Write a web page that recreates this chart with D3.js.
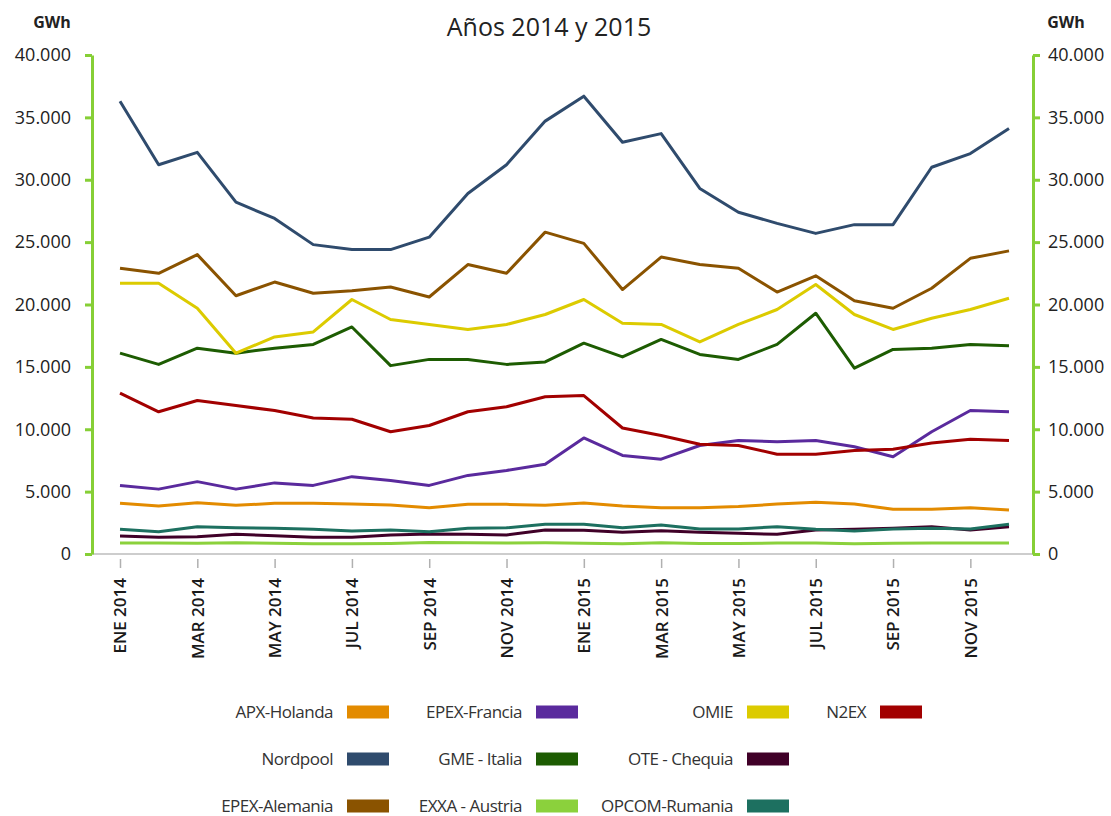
<!DOCTYPE html>
<html>
<head>
<meta charset="utf-8">
<script src="https://cdn.jsdelivr.net/npm/d3@7"></script>
<style>
  body { margin: 0; background: #fff; }
  svg { display: block; font-family: "Open Sans", "DejaVu Sans", sans-serif; }
</style>
</head>
<body>
<div id="chart"></div>
<script>
// months (x categories)
const monthNames = ["ENE", "FEB", "MAR", "ABR", "MAY", "JUN", "JUL", "AGO", "SEP", "OCT", "NOV", "DIC"];
const months = [2014, 2015].flatMap(yr => monthNames.map(m => `${m} ${yr}`));

// GWh per month
const nordpool   = [36.3, 31.2, 32.2, 28.2, 26.9, 24.8, 24.4, 24.4, 25.4, 28.9, 31.2, 34.7, 36.7, 33.0, 33.7, 29.3, 27.4, 26.5, 25.7, 26.4, 26.4, 31.0, 32.1, 34.1];
const alemania   = [22.9, 22.5, 24.0, 20.7, 21.8, 20.9, 21.1, 21.4, 20.6, 23.2, 22.5, 25.8, 24.9, 21.2, 23.8, 23.2, 22.9, 21.0, 22.3, 20.3, 19.7, 21.3, 23.7, 24.3];
const omie       = [21.7, 21.7, 19.7, 16.1, 17.4, 17.8, 20.4, 18.8, 18.4, 18.0, 18.4, 19.2, 20.4, 18.5, 18.4, 17.0, 18.4, 19.6, 21.6, 19.2, 18.0, 18.9, 19.6, 20.5];
const gme        = [16.1, 15.2, 16.5, 16.1, 16.5, 16.8, 18.2, 15.1, 15.6, 15.6, 15.2, 15.4, 16.9, 15.8, 17.2, 16.0, 15.6, 16.8, 19.3, 14.9, 16.4, 16.5, 16.8, 16.7];
const n2ex       = [12.9, 11.4, 12.3, 11.9, 11.5, 10.9, 10.8, 9.8, 10.3, 11.4, 11.8, 12.6, 12.7, 10.1, 9.5, 8.8, 8.7, 8.0, 8.0, 8.3, 8.4, 8.9, 9.2, 9.1];
const francia    = [5.5, 5.2, 5.8, 5.2, 5.7, 5.5, 6.2, 5.9, 5.5, 6.3, 6.7, 7.2, 9.3, 7.9, 7.6, 8.7, 9.1, 9.0, 9.1, 8.6, 7.8, 9.8, 11.5, 11.4];
const apx        = [4.06, 3.85, 4.1, 3.9, 4.06, 4.06, 4.0, 3.93, 3.7, 3.98, 3.98, 3.9, 4.08, 3.85, 3.7, 3.7, 3.8, 4.0, 4.14, 4.0, 3.58, 3.58, 3.7, 3.53];
const opcom      = [1.98, 1.79, 2.19, 2.1, 2.06, 1.98, 1.84, 1.92, 1.79, 2.06, 2.1, 2.38, 2.38, 2.1, 2.32, 2.0, 2.0, 2.19, 1.98, 1.84, 2.0, 2.06, 2.0, 2.38];
const ote        = [1.44, 1.34, 1.39, 1.58, 1.47, 1.34, 1.34, 1.52, 1.6, 1.58, 1.52, 1.92, 1.9, 1.74, 1.87, 1.74, 1.66, 1.58, 1.92, 1.98, 2.06, 2.19, 1.92, 2.19];
const exxa       = [0.88, 0.88, 0.87, 0.9, 0.86, 0.82, 0.82, 0.85, 0.92, 0.9, 0.88, 0.9, 0.86, 0.82, 0.9, 0.85, 0.85, 0.88, 0.88, 0.82, 0.86, 0.88, 0.88, 0.88];

const series = [
    { name: "EXXA - Austria", values: exxa, color: "#8bd13c" },
    { name: "OTE - Chequia", values: ote, color: "#400028" },
    { name: "OPCOM-Rumania", values: opcom, color: "#1d7060" },
    { name: "APX-Holanda", values: apx, color: "#e38b00" },
    { name: "EPEX-Francia", values: francia, color: "#5a2a9d" },
    { name: "N2EX", values: n2ex, color: "#a20000" },
    { name: "GME - Italia", values: gme, color: "#1d5c02" },
    { name: "OMIE", values: omie, color: "#dccb00" },
    { name: "EPEX-Alemania", values: alemania, color: "#8a5300" },
    { name: "Nordpool", values: nordpool, color: "#2f4b6d" }
];

// legend order, row by row
const legendRows = [
    ["APX-Holanda", "EPEX-Francia", "OMIE", "N2EX"],
    ["Nordpool", "GME - Italia", "OTE - Chequia"],
    ["EPEX-Alemania", "EXXA - Austria", "OPCOM-Rumania"]
];

const width = 1111, height = 816;
const axisGreen = "#86cf36";
const fontFamily = '"Open Sans", "DejaVu Sans", sans-serif';

const svg = d3.select("#chart").append("svg")
    .attr("width", width)
    .attr("height", height);

const x = d3.scalePoint().domain(months).range([120, 1009]);
const y = d3.scaleLinear().domain([0, 40000]).range([554, 55]);
const leftX = 92, rightX = 1033;

const fmt = d => d === 0 ? "0" : d3.format(",")(d).replace(/,/g, ".");
const yTicks = d3.range(0, 40001, 5000);

// title
svg.append("text")
    .attr("x", 549)
    .attr("y", 36)
    .attr("text-anchor", "middle")
    .style("font-size", "25px")
    .style("fill", "#222")
    .text("Años 2014 y 2015");

// unit labels
svg.append("text").attr("x", 52).attr("y", 28).attr("text-anchor", "middle")
    .style("font-size", "16px").style("font-weight", 700).style("fill", "#222").text("GWh");
svg.append("text").attr("x", 1066).attr("y", 28).attr("text-anchor", "middle")
    .style("font-size", "16px").style("font-weight", 700).style("fill", "#222").text("GWh");

// baseline
svg.append("line")
    .attr("x1", leftX).attr("x2", rightX)
    .attr("y1", y(0)).attr("y2", y(0))
    .attr("stroke", "#bdbdbd")
    .attr("stroke-width", 1.5);

// y axes
function styleYAxis(g) {
    g.attr("font-family", fontFamily);
    g.select(".domain").attr("stroke", axisGreen).attr("stroke-width", 3);
    g.selectAll(".tick line").attr("stroke", axisGreen).attr("stroke-width", 3);
    g.selectAll(".tick text").style("font-size", "18px").style("fill", "#222");
}

svg.append("g")
    .attr("transform", `translate(${leftX},0)`)
    .call(d3.axisLeft(y).tickValues(yTicks).tickFormat(fmt).tickSize(7).tickSizeOuter(0).tickPadding(14))
    .call(styleYAxis);

svg.append("g")
    .attr("transform", `translate(${rightX},0)`)
    .call(d3.axisRight(y).tickValues(yTicks).tickFormat(fmt).tickSize(7).tickSizeOuter(0).tickPadding(8))
    .call(styleYAxis);

// x axis
const xAxis = svg.append("g")
    .attr("transform", `translate(0,${y(0) + 5})`)
    .call(d3.axisBottom(x).tickValues(months.filter((d, i) => i % 2 === 0)).tickSize(9).tickSizeOuter(0))
    .attr("font-family", fontFamily);
xAxis.select(".domain").remove();
xAxis.selectAll(".tick line").attr("stroke", "#b0b0b0").attr("stroke-width", 1.5);
xAxis.selectAll(".tick text")
    .attr("transform", "rotate(-90)")
    .attr("x", -19)
    .attr("y", 0)
    .attr("dy", "0.35em")
    .style("text-anchor", "end")
    .style("font-size", "17px")
    .style("font-weight", 600)
    .style("fill", "#1a1a1a");

// lines
const line = d3.line()
    .x((d, i) => x(months[i]))
    .y(d => y(d * 1000));

svg.append("g")
    .selectAll("path")
    .data(series)
    .join("path")
    .attr("d", d => line(d.values))
    .attr("fill", "none")
    .attr("stroke", d => d.color)
    .attr("stroke-width", 3)
    .attr("stroke-linejoin", "round");

// legend
const colorOf = new Map(series.map(s => [s.name, s.color]));
const legendColX = [333, 522, 733, 866];
const legendRowY = [712, 759, 806];

legendRows.forEach((row, r) => {
    row.forEach((name, c) => {
        const g = svg.append("g")
            .attr("transform", `translate(${legendColX[c]},${legendRowY[r]})`);
        g.append("text")
            .attr("x", 0)
            .attr("y", 0)
            .attr("dy", "0.35em")
            .attr("text-anchor", "end")
            .style("font-size", "17px")
            .style("letter-spacing", "-0.5px")
            .style("fill", "#333")
            .text(name);
        g.append("rect")
            .attr("x", 14)
            .attr("y", -6.5)
            .attr("width", 42)
            .attr("height", 13)
            .attr("fill", colorOf.get(name));
    });
});
</script>
</body>
</html>
